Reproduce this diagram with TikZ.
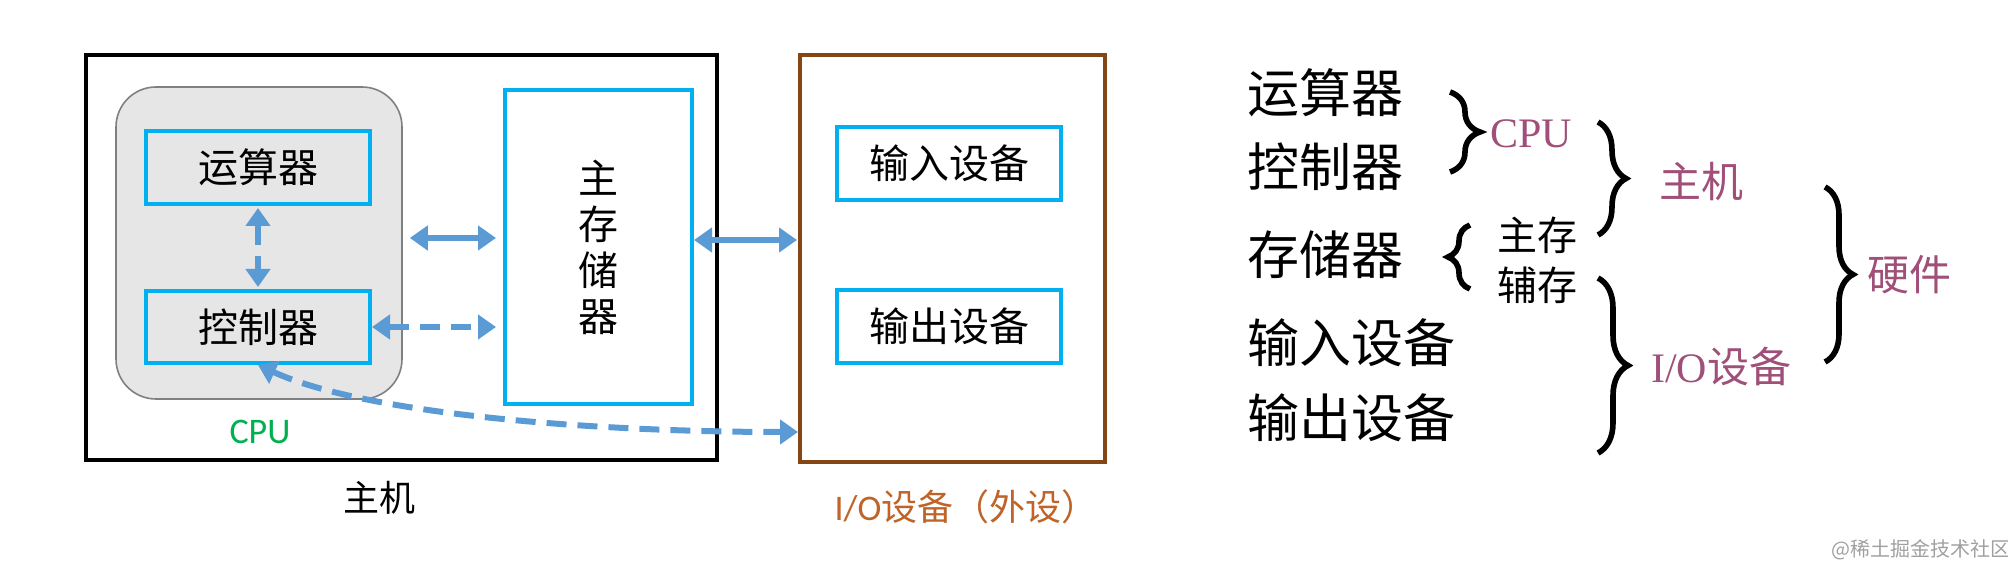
\documentclass[tikz,border=0pt]{standalone}
\usepackage{fontspec}
\setmainfont{Liberation Serif}
\newfontfamily\cjk{Noto Sans CJK SC}
\newfontfamily\calib{Carlito}
\usetikzlibrary{arrows.meta,decorations.pathreplacing}

\definecolor{boxblue}{RGB}{0,176,240}
\definecolor{arrowblue}{RGB}{91,155,213}
\definecolor{iobrown}{RGB}{133,70,22}
\definecolor{ioorange}{RGB}{191,100,40}
\definecolor{cpugreen}{RGB}{0,176,80}
\definecolor{mauve}{RGB}{160,80,120}
\definecolor{cpugray}{RGB}{230,230,230}
\definecolor{wmgray}{RGB}{160,160,160}

\begin{document}
\begin{tikzpicture}[x=0.5pt, y=-0.5pt,
  unit/.style={draw=boxblue, line width=2pt, inner sep=0pt, font=\cjk\fontsize{20}{23}\selectfont},
  link/.style={draw=arrowblue, line width=3pt,
    {Triangle[width=12pt,length=9pt]}-{Triangle[width=12pt,length=9pt]}},
  dashlink/.style={link, dash pattern=on 10pt off 5.5pt},
  hw/.style={inner sep=0pt, anchor=west, font=\cjk\fontsize{26}{30}\selectfont},
  tag/.style={inner sep=0pt, text=mauve, font=\cjk\fontsize{21}{24}\selectfont},
  curly/.style={decorate, decoration={brace, amplitude=#1}, line width=2.8pt}
]
  \useasboundingbox (0,0) rectangle (2008,566);

  % 主机 / CPU 外框
  \node[draw, line width=2pt, minimum width=315.5pt, minimum height=202.5pt] (host) at (401.5,257.5) {};
  \node[draw=gray, fill=cpugray, line width=0.8pt, rounded corners=20pt,
        minimum width=143pt, minimum height=156pt] (cpu) at (259,243) {};

  \node[unit, minimum width=112pt, minimum height=36.5pt] (alu)  at (258,167.5) {运算器};
  \node[unit, minimum width=112pt, minimum height=36pt]   (ctrl) at (258,327)   {控制器};
  \node[unit, minimum width=93.5pt, minimum height=157pt, align=center] (mem) at (598.5,247)
    {主\\存\\储\\器};

  % I/O 设备
  \node[draw=iobrown, line width=2pt, minimum width=152.5pt, minimum height=203.5pt] (io) at (952.5,258.5) {};
  \node[unit, minimum width=112pt, minimum height=36.5pt] (inp) at (949,163.5) {输入设备};
  \node[unit, minimum width=112pt, minimum height=36.5pt] (outp) at (949,326.5) {输出设备};

  \node[text=cpugreen, font=\calib\fontsize{18}{20}\selectfont] (cpulbl) at (260,432) {CPU};
  \node[font=\cjk\fontsize{18}{20}\selectfont] (hostlbl) at (379,498) {主机};
  \node[text=ioorange, font=\fontsize{18}{20}\selectfont] (iolbl) at (966,507)
    {{\calib I/O}{\cjk 设备（外设）}};

  % 连线
  \draw[dashlink, shorten <=1pt, shorten >=1pt] (alu.south) -- (ctrl.north);
  \draw[link, shorten <=3.5pt, shorten >=3.5pt] ([yshift=2.5pt]cpu.east) -- ([yshift=2.5pt]cpu.east -| mem.west);
  \draw[dashlink, shorten >=3.5pt] (ctrl.east) -- (ctrl.east -| mem.west);
  \draw[link, shorten >=0.5pt] ([yshift=3.5pt]mem.east) -- ([yshift=3.5pt]mem.east -| io.west);
  \coordinate (ioin) at ([yshift=16pt]io.south west);
  \draw[dashlink] (ctrl.south) .. controls +(110,50) and +(-200,0) .. (ioin);

  % 右侧分类
  \node[hw] (lalu)  at (1247,93)  {运算器};
  \node[hw] (lctrl) at (1247,167) {控制器};
  \node[hw] (lmem)  at (1247,255) {存储器};
  \node[hw] (linp)  at (1247,343) {输入设备};
  \node[hw] (loutp) at (1247,418) {输出设备};

  \coordinate (b1a) at (1450,92);  \coordinate (b1b) at (1450,172);
  \coordinate (b2a) at (1470,289); \coordinate (b2b) at (1470,225);
  \coordinate (b3a) at (1598,122); \coordinate (b3b) at (1598,235);
  \coordinate (b4a) at (1598,278); \coordinate (b4b) at (1598,453);
  \coordinate (b5a) at (1825,187); \coordinate (b5b) at (1825,362);
  \draw[curly=15pt] (b1a) -- (b1b);
  \draw[curly=11pt] (b2a) -- (b2b);
  \draw[curly=14pt] (b3a) -- (b3b);
  \draw[curly=15pt] (b4a) -- (b4b);
  \draw[curly=14pt] (b5a) -- (b5b);

  \node[tag, font=\fontsize{21}{24}\selectfont] (tcpu) at (1531,134) {CPU};
  \node[tag, text=black, font=\cjk\fontsize{20}{23}\selectfont] (tmain) at (1537,235) {主存};
  \node[tag, text=black, font=\cjk\fontsize{20}{23}\selectfont] (taux)  at (1537,285) {辅存};
  \node[tag] (thost) at (1701,182) {主机};
  \node[tag] (tio)   at (1721,367) {{\rmfamily I/O}设备};
  \node[tag] (thw)   at (1909,275) {硬件};

  \node[text=wmgray, font=\cjk\fontsize{10}{12}\selectfont] (wm) at (1921,550) {@稀土掘金技术社区};
\end{tikzpicture}
\end{document}
